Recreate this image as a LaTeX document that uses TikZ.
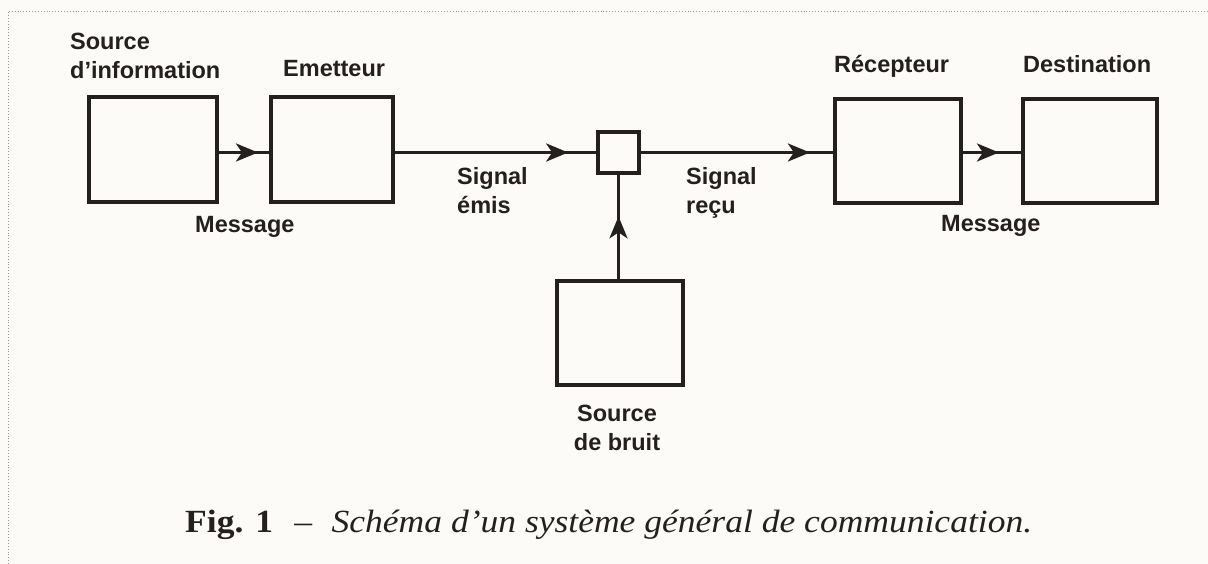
\documentclass[tikz,border=0pt]{standalone}
\usepackage{fontspec}
\setmainfont{Liberation Serif}
\newfontfamily\labfont{Liberation Sans}
\usetikzlibrary{arrows.meta,decorations.markings}
\definecolor{paper}{RGB}{252,251,248}
\definecolor{ink}{RGB}{35,32,30}
\tikzset{
  box/.style={draw=ink, line width=4pt, minimum width=#1, inner sep=0pt},
  lbl/.style={inner sep=0pt, text=ink, font=\labfont\bfseries\fontsize{23.5}{29}\selectfont},
  flow/.style={draw=ink, line width=3.2pt,
    postaction={decorate, decoration={markings,
      mark=at position #1 with {\arrow{Stealth[length=22pt,width=18pt,inset=6pt]}}}}},
}
\begin{document}
\begin{tikzpicture}[x=1pt,y=-1pt]
\useasboundingbox (0,0) rectangle (1208,564);
\fill[paper] (0,0) rectangle (1208,564);
\draw[gray!80, line width=0.9pt, dotted] (8,564) -- (8,11) -- (1208,11);
% boxes
\node[box=128pt, minimum height=105pt] (src) at (153,149.5) {};
\node[box=122pt, minimum height=105pt] (emit) at (332,149.5) {};
\node[box=41pt, minimum height=41pt, line width=3.2pt] (mix) at (618.5,152.5) {};
\node[box=126pt, minimum height=104pt] (rec) at (898,151) {};
\node[box=134pt, minimum height=104pt] (dest) at (1090,151) {};
\node[box=126pt, minimum height=104pt] (noise) at (620,333) {};
% connectors
\draw[flow=0.78] (src.east |- mix.west) -- (emit.west |- mix.west);
\draw[flow=0.86] (emit.east |- mix.west) -- (mix.west);
\draw[flow=0.88] (mix.east) -- (rec.west |- mix.east);
\draw[flow=0.62] (rec.east |- mix.east) -- (dest.west |- mix.east);
\draw[flow=0.6] (noise.north -| mix.south) -- (mix.south);
% labels
\node[lbl, anchor=north west, align=left] (lsrc) at (70,33) {Source\\d’information};
\node[lbl, anchor=base west] (lemit) at (283,77) {Emetteur};
\node[lbl, anchor=base west] (lmsg1) at (195,233) {Message};
\node[lbl, anchor=north west, align=left] (lemis) at (457,167) {Signal\\émis};
\node[lbl, anchor=north west, align=left] (lrecu) at (686,167) {Signal\\reçu};
\node[lbl, anchor=base west] (lrec) at (834,73) {Récepteur};
\node[lbl, anchor=base west] (ldest) at (1023,73) {Destination};
\node[lbl, anchor=base west] (lmsg2) at (941,232) {Message};
\node[lbl, anchor=north, align=center] (lnoise) at (617,405) {Source\\de bruit};
% caption
\node[inner sep=0pt, anchor=base west, text=ink, font=\fontsize{32.3}{38}\selectfont] (cap) at (185,532)
  {\scalebox{1.1}[1]{\textbf{Fig. 1}\hspace{0.6em}–\hspace{0.55em}\textit{Schéma d’un système général de communication.}}};
\end{tikzpicture}
\end{document}
